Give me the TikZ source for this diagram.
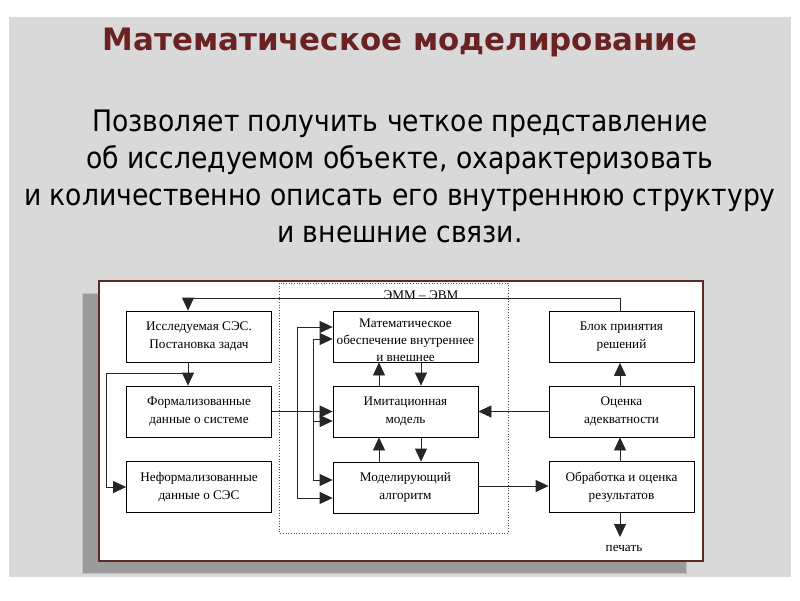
\documentclass[tikz,border=0pt]{standalone}
\usepackage{fontspec}
\setmainfont{Liberation Serif}
\newfontfamily\titlefont{DejaVu Sans}
\newfontfamily\bodyfont{DejaVu Sans Condensed}
\usetikzlibrary{arrows.meta,calc}
\definecolor{slidegray}{HTML}{D9D9D9}
\definecolor{shadowgray}{HTML}{9B9B9B}
\definecolor{framered}{HTML}{5E2828}
\definecolor{titlered}{HTML}{6A2222}
\tikzset{
  box/.style={draw=black,line width=0.8pt,minimum width=145pt,minimum height=51pt,inner sep=0pt,
    align=center,font=\fontsize{13.2}{18}\selectfont},
  tip/.tip={Triangle[length=13pt,width=12pt]},
  arr/.style={draw=black!85,line width=0.8pt,-tip},
  dbl/.style={draw=black!85,line width=0.8pt,tip-tip},
  lbl/.style={inner sep=0pt,font=\fontsize{13.2}{16}\selectfont}
}
\begin{document}
\begin{tikzpicture}[x=1pt,y=-1pt]
\useasboundingbox (0,0) rectangle (800,600);
\fill[white] (0,0) rectangle (800,600);
\fill[slidegray] (9,17) rectangle (791,577);
% title and body
\node[inner sep=0pt,text=titlered,font=\titlefont\bfseries\fontsize{30.9}{34}\selectfont] (title) at (400,42) {Математическое моделирование};
\node[inner sep=0pt,align=center,font=\bodyfont\fontsize{29.6}{37}\selectfont] (body) at (400,176)
  {Позволяет получить четкое представление\\об исследуемом объекте, охарактеризовать\\и количественно описать его внутреннюю структуру\\и внешние связи.};
% picture frame
\filldraw[fill=shadowgray,draw=black!25,line width=1pt] (82,293) rectangle (686,573);
\filldraw[fill=white,draw=framered,line width=2pt] (99,281) rectangle (703,561);
\draw[black!70,dotted,line width=0.7pt] (279,283) rectangle (508,533);
% boxes
\node[box] (b1) at (199,336.5) {Исследуемая СЭС.\\Постановка задач};
\node[box] (b2) at (199,411.5) {Формализованные\\данные о системе};
\node[box] (b3) at (199,487) {Неформализованные\\данные о СЭС};
\node[box] (m1) at (405.5,336.5) {};
\node[lbl,align=center,font=\fontsize{13.2}{17}\selectfont] (m1t) at ($(m1.center)+(0,3.5)$) {Математическое\\обеспечение внутреннее\\и внешнее};
\node[box] (m2) at (405.5,411.5) {Имитационная\\модель};
\node[box] (m3) at (405.5,487.5) {Моделирующий\\алгоритм};
\node[box] (r1) at (621.5,337) {Блок принятия\\решений};
\node[box] (r2) at (621.5,411.5) {Оценка\\адекватности};
\node[box] (r3) at (621.5,487) {Обработка и оценка\\результатов};
\node[lbl] (emm) at (421,295) {ЭММ – ЭВМ};
\node[lbl] (print) at (624,548) {печать};
% connectors
\coordinate (tl) at (188,298);
\coordinate (tr) at (620,298);
\draw[arr] (r1.north -| tr) -- (tr) -- (tl) -- (tl |- b1.north);
\draw[arr] (b1.south -| tl) -- (b2.north -| tl);
\coordinate (br) at (188,373);
\coordinate (bl) at (106,373);
\draw[arr] (br) -- (bl) |- (b3.west);
\draw[arr] (b2.east) -- (m2.west);
\coordinate (va) at (297,327);
\coordinate (vb) at (313,339);
\draw[dbl] ($(m1.west)+(0,-9.5)$) -- (va) -- (va |- 0,498) -- ($(m3.west)+(0,10.5)$);
\draw[dbl] ($(m1.west)+(0,2.5)$) -- (vb) -- (vb |- 0,480) -- ($(m3.west)+(0,-7.5)$);
\coordinate (vc) at (313,421);
\draw[arr] (vc) -- ($(m2.west)+(0,9.5)$);
\coordinate (ua) at (379,0);
\coordinate (da) at (421,0);
\draw[arr] (m2.north -| ua) -- (m1.south -| ua);
\draw[arr] (m1.south -| da) -- (m2.north -| da);
\draw[arr] (m3.north -| ua) -- (m2.south -| ua);
\draw[arr] (m2.south -| da) -- (m3.north -| da);
\draw[arr] (r2.west) -- (m2.east);
\coordinate (rx) at (620,0);
\draw[arr] (r2.north -| rx) -- (r1.south -| rx);
\draw[arr] (r3.north -| rx) -- (r2.south -| rx);
\draw[arr] ($(m3.east)+(0,-1.5)$) -- ($(r3.west)+(0,-1)$);
\draw[arr] (r3.south -| rx) -- (620,537);
\end{tikzpicture}
\end{document}
